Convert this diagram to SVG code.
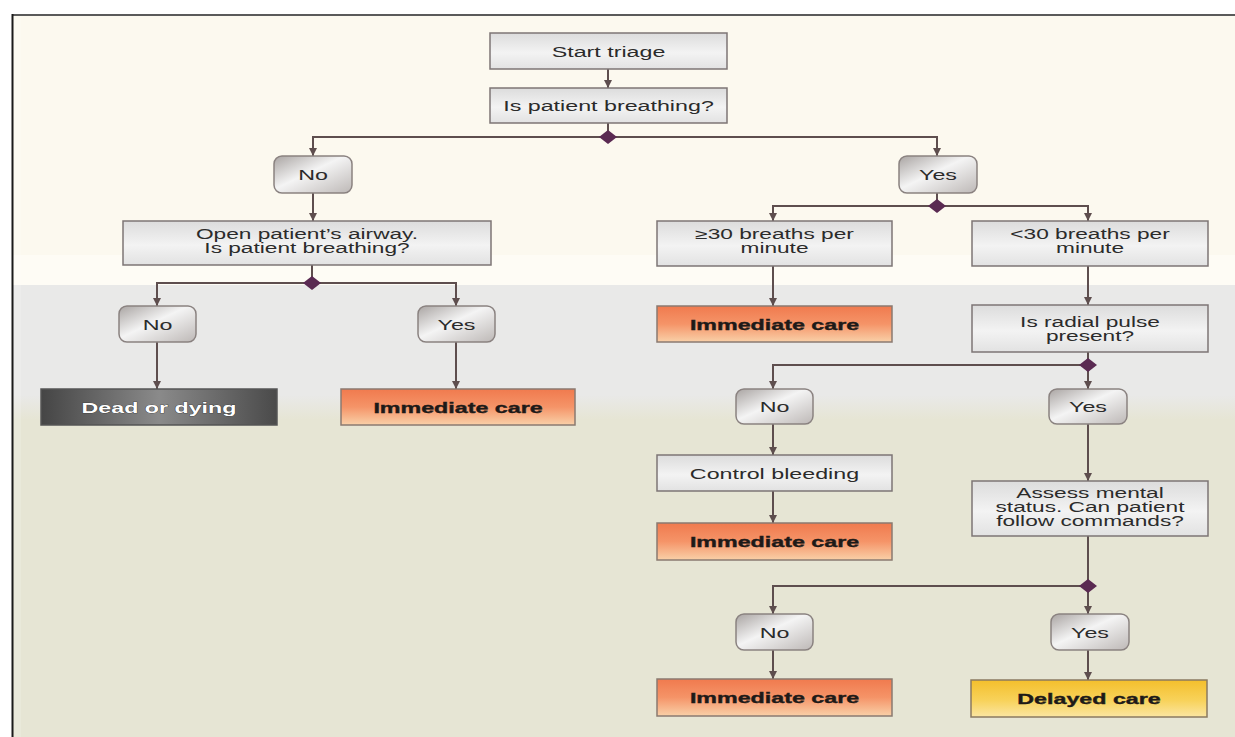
<svg xmlns="http://www.w3.org/2000/svg" width="1235" height="737" viewBox="0 0 1235 737">
<defs>
<style>
.t{font-family:"Liberation Sans",Arial,sans-serif;font-size:15.5px;fill:#2b2b2b;text-anchor:middle}
.m{font-family:"Liberation Sans",Arial,sans-serif;font-size:14px;fill:#2b2b2b;text-anchor:middle}
.b{font-family:"Liberation Sans",Arial,sans-serif;font-size:15.5px;font-weight:bold;fill:#1e1a18;text-anchor:middle;stroke:#1e1a18;stroke-width:0.4}
.w{font-family:"Liberation Sans",Arial,sans-serif;font-size:15.5px;font-weight:bold;fill:#ffffff;text-anchor:middle;stroke:#2a2a2a;stroke-width:0.6;paint-order:stroke}
.box{fill:url(#gGray);stroke:#7d7575;stroke-width:1.5}
.pill{fill:url(#gPill);stroke:#8a8280;stroke-width:1.5}
.imm{fill:url(#gOrange);stroke:#8a7a70;stroke-width:1.5}
.del{fill:url(#gYellow);stroke:#8a7a60;stroke-width:1.5}
.dead{fill:url(#gDark);stroke:#555;stroke-width:1.5}
.c{fill:none;stroke:#5e4e4e;stroke-width:2}
.dia{fill:#5a2a52}
</style>
<linearGradient id="gGray" x1="0" y1="0" x2="0" y2="1">
<stop offset="0" stop-color="#dcdcdc"/><stop offset="0.55" stop-color="#f3f3f3"/><stop offset="1" stop-color="#e2e2e2"/>
</linearGradient>
<linearGradient id="gPill" x1="0" y1="0" x2="1" y2="1">
<stop offset="0" stop-color="#a9a4a2"/><stop offset="0.45" stop-color="#f4f4f4"/><stop offset="1" stop-color="#bdb8b6"/>
</linearGradient>
<linearGradient id="gOrange" x1="0" y1="0" x2="0" y2="1">
<stop offset="0" stop-color="#f07a4e"/><stop offset="0.5" stop-color="#f59468"/><stop offset="1" stop-color="#f9d0a8"/>
</linearGradient>
<linearGradient id="gYellow" x1="0" y1="0" x2="0" y2="1">
<stop offset="0" stop-color="#f4bf2c"/><stop offset="0.55" stop-color="#f8d25a"/><stop offset="1" stop-color="#fbe6a2"/>
</linearGradient>
<linearGradient id="gDark" x1="0" y1="0" x2="1" y2="0">
<stop offset="0" stop-color="#454545"/><stop offset="0.5" stop-color="#8a8a8a"/><stop offset="1" stop-color="#4a4a4a"/>
</linearGradient>
<linearGradient id="gTrans" x1="0" y1="395" x2="0" y2="420" gradientUnits="userSpaceOnUse">
<stop offset="0" stop-color="#e9e9e8"/><stop offset="1" stop-color="#e6e5d4"/>
</linearGradient>
<marker id="ah" viewBox="0 0 10 10" refX="10" refY="5" markerWidth="8" markerHeight="8" markerUnits="userSpaceOnUse" orient="auto">
<path d="M0,0 L10,5 L0,10 z" fill="#5e4e4e"/>
</marker>
</defs>

<g id="background">
<rect x="0" y="0" width="1235" height="737" fill="#ffffff"/>
<rect x="12" y="15" width="1223" height="722" fill="#fcf9ef"/>
<rect x="12" y="255" width="1223" height="30" fill="#fefcf5"/>
<rect x="12" y="285" width="1223" height="452" fill="#e9e9e8"/>
<rect x="12" y="395" width="1223" height="342" fill="url(#gTrans)"/>
<rect x="14" y="16" width="7" height="721" fill="#ffffff" opacity="0.15"/>
<line x1="12" y1="15" x2="1235" y2="15" stroke="#5a5a5a" stroke-width="2"/>
<line x1="12.5" y1="14" x2="12.5" y2="737" stroke="#1a1a1a" stroke-width="2"/>
</g>

<g id="connectors">
<path class="c" d="M608,69 V88" marker-end="url(#ah)"/>
<path class="c" d="M608,123 V137 H313 V156" marker-end="url(#ah)"/>
<path class="c" d="M608,137 H937 V156" marker-end="url(#ah)"/>
<path class="c" d="M313,193 V221" marker-end="url(#ah)"/>
<path class="c" d="M937,193 V206 H773 V221" marker-end="url(#ah)"/>
<path class="c" d="M937,206 H1088 V221" marker-end="url(#ah)"/>
<path class="c" d="M312,265 V283 H157 V306" marker-end="url(#ah)"/>
<path class="c" d="M312,283 H456 V306" marker-end="url(#ah)"/>
<path class="c" d="M157,342 V389" marker-end="url(#ah)"/>
<path class="c" d="M456,342 V389" marker-end="url(#ah)"/>
<path class="c" d="M773,266 V306" marker-end="url(#ah)"/>
<path class="c" d="M1088,266 V305" marker-end="url(#ah)"/>
<path class="c" d="M1088,352 V365 H773 V389" marker-end="url(#ah)"/>
<path class="c" d="M1088,365 V389" marker-end="url(#ah)"/>
<path class="c" d="M773,423 V455" marker-end="url(#ah)"/>
<path class="c" d="M773,491 V523" marker-end="url(#ah)"/>
<path class="c" d="M1088,423 V481" marker-end="url(#ah)"/>
<path class="c" d="M1088,536 V586 H773 V614" marker-end="url(#ah)"/>
<path class="c" d="M1088,586 V614" marker-end="url(#ah)"/>
<path class="c" d="M773,650 V679" marker-end="url(#ah)"/>
<path class="c" d="M1088,650 V680" marker-end="url(#ah)"/>
<path class="dia" d="M608,130 L617,137 L608,144 L599,137 z"/>
<path class="dia" d="M937,199 L946,206 L937,213 L928,206 z"/>
<path class="dia" d="M312,276 L321,283 L312,290 L303,283 z"/>
<path class="dia" d="M1088,358 L1097,365 L1088,372 L1079,365 z"/>
<path class="dia" d="M1088,579 L1097,586 L1088,593 L1079,586 z"/>
</g>

<g id="start"><rect class="box" x="490" y="33" width="237" height="36"/>
<text class="t" transform="translate(608.5,56.5) scale(1.5,1)">Start triage</text></g>

<g id="breathing"><rect class="box" x="490" y="88" width="237" height="35"/>
<text class="t" transform="translate(608.5,111) scale(1.5,1)">Is patient breathing?</text></g>

<g id="no1"><rect class="pill" x="274" y="156" width="78" height="37" rx="8"/>
<text class="t" transform="translate(313,180) scale(1.5,1)">No</text></g>

<g id="yes1"><rect class="pill" x="899" y="156" width="78" height="37" rx="8"/>
<text class="t" transform="translate(938,180) scale(1.5,1)">Yes</text></g>

<g id="airway"><rect class="box" x="123" y="221" width="368" height="44"/>
<text class="m" transform="translate(307,238.5) scale(1.62,1)"><tspan x="0" y="0">Open patient’s airway.</tspan><tspan x="0" y="14.5">Is patient breathing?</tspan></text></g>

<g id="ge30"><rect class="box" x="657" y="221" width="235" height="45"/>
<text class="m" transform="translate(774.5,238.5) scale(1.62,1)"><tspan x="0" y="0">≥30 breaths per</tspan><tspan x="0" y="14.5">minute</tspan></text></g>

<g id="lt30"><rect class="box" x="972" y="221" width="236" height="45"/>
<text class="m" transform="translate(1090,238.5) scale(1.62,1)"><tspan x="0" y="0">&lt;30 breaths per</tspan><tspan x="0" y="14.5">minute</tspan></text></g>

<g id="no2"><rect class="pill" x="119" y="306" width="77" height="36" rx="8"/>
<text class="t" transform="translate(157.5,329.5) scale(1.5,1)">No</text></g>

<g id="yes2"><rect class="pill" x="418" y="306" width="77" height="36" rx="8"/>
<text class="t" transform="translate(456.5,329.5) scale(1.5,1)">Yes</text></g>

<g id="imm1"><rect class="imm" x="657" y="306" width="235" height="36"/>
<text class="b" transform="translate(774.5,329.5) scale(1.5,1)">Immediate care</text></g>

<g id="radial"><rect class="box" x="972" y="305" width="236" height="47"/>
<text class="m" transform="translate(1090,326.5) scale(1.62,1)"><tspan x="0" y="0">Is radial pulse</tspan><tspan x="0" y="14.5">present?</tspan></text></g>

<g id="dead"><rect class="dead" x="41" y="389" width="236" height="36"/>
<text class="w" transform="translate(159,412.5) scale(1.5,1)">Dead or dying</text></g>

<g id="imm2"><rect class="imm" x="341" y="389" width="234" height="36"/>
<text class="b" transform="translate(458,412.5) scale(1.5,1)">Immediate care</text></g>

<g id="no3"><rect class="pill" x="736" y="389" width="77" height="35" rx="8"/>
<text class="t" transform="translate(774.5,412) scale(1.5,1)">No</text></g>

<g id="yes3"><rect class="pill" x="1049" y="389" width="78" height="35" rx="8"/>
<text class="t" transform="translate(1088,412) scale(1.5,1)">Yes</text></g>

<g id="bleeding"><rect class="box" x="657" y="455" width="235" height="36"/>
<text class="t" transform="translate(774.5,478.5) scale(1.5,1)">Control bleeding</text></g>

<g id="imm3"><rect class="imm" x="657" y="523" width="235" height="37"/>
<text class="b" transform="translate(774.5,547) scale(1.5,1)">Immediate care</text></g>

<g id="assess"><rect class="box" x="972" y="481" width="236" height="55"/>
<text class="m" transform="translate(1090,497.5) scale(1.62,1)"><tspan x="0" y="0">Assess mental</tspan><tspan x="0" y="14.5">status. Can patient</tspan><tspan x="0" y="29">follow commands?</tspan></text></g>

<g id="no4"><rect class="pill" x="736" y="614" width="77" height="36" rx="8"/>
<text class="t" transform="translate(774.5,637.5) scale(1.5,1)">No</text></g>

<g id="yes4"><rect class="pill" x="1051" y="614" width="78" height="36" rx="8"/>
<text class="t" transform="translate(1090,637.5) scale(1.5,1)">Yes</text></g>

<g id="imm4"><rect class="imm" x="657" y="679" width="235" height="37"/>
<text class="b" transform="translate(774.5,703) scale(1.5,1)">Immediate care</text></g>

<g id="delayed"><rect class="del" x="971" y="680" width="236" height="37"/>
<text class="b" transform="translate(1089,704) scale(1.5,1)">Delayed care</text></g>
</svg>
